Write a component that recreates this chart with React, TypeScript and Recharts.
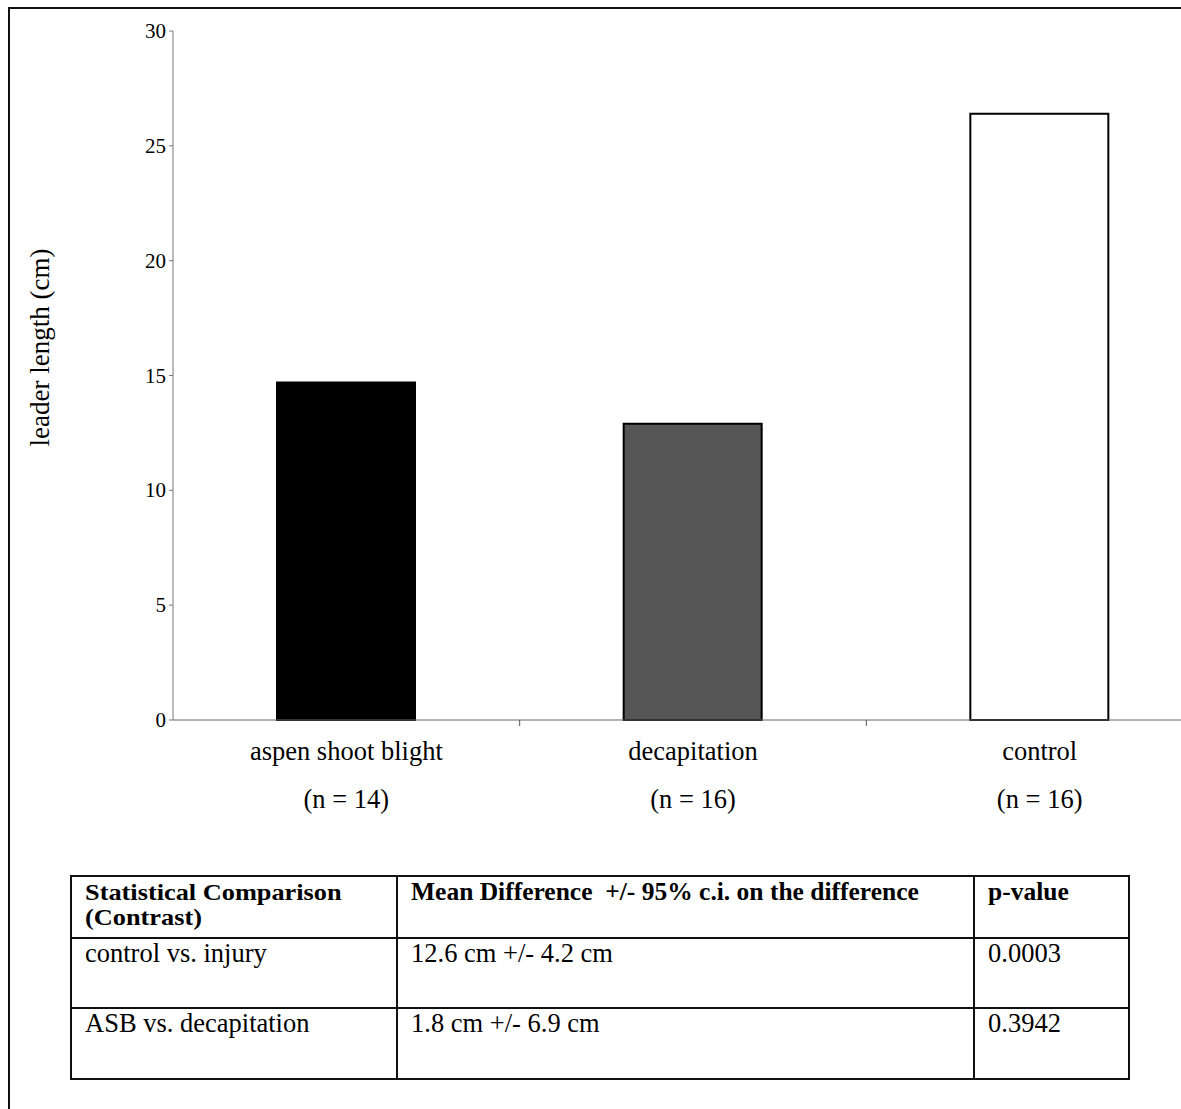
import React from 'react';
import { BarChart, Bar, XAxis, YAxis, Cell } from 'recharts';

const categories = ['aspen shoot blight', 'decapitation', 'control'];
const sampleSizes = ['(n = 14)', '(n = 16)', '(n = 16)'];
const leaderLength = [14.7, 12.9, 26.4];
const yTicks = [0, 5, 10, 15, 20, 25, 30];

const headerLines = ['Statistical Comparison', '(Contrast)'];
const tableHeader = ['Mean Difference  +/- 95% c.i. on the difference', 'p-value'];
const contrasts = ['control vs. injury', 'ASB vs. decapitation'];
const meanDiffs = ['12.6 cm +/- 4.2 cm', '1.8 cm +/- 6.9 cm'];
const pValues = ['0.0003', '0.3942'];

const barFills = ['#000000', '#555555', '#ffffff'];

const FONT = '"Liberation Serif", "Times New Roman", Times, serif';
const CHART_W = 1215;
const CHART_H = 830;
const MARGIN = { top: 31, right: 2, bottom: 0, left: 0 };
const Y_W = 173;
const X_H = 110;
const BAND = (CHART_W - MARGIN.right - Y_W) / categories.length;

const data = categories.map((name, i) => ({ name, value: leaderLength[i], n: sampleSizes[i] }));

const XTick = (props: any) => {
  const { x, y, index, payload } = props;
  const i = index ?? payload?.index ?? 0;
  return (
    <g>
      {i > 0 && <line x1={x - BAND / 2} x2={x - BAND / 2} y1={y} y2={y + 6} stroke="#555" strokeWidth={1} />}
      <text x={x} y={y + 40} textAnchor="middle" fontSize={26.5} fontFamily={FONT} fill="#000">
        {payload.value}
      </text>
      <text x={x} y={y + 88} textAnchor="middle" fontSize={26.5} fontFamily={FONT} fill="#000">
        {sampleSizes[i]}
      </text>
    </g>
  );
};

const YTick = (props: any) => {
  const { x, y, payload } = props;
  return (
    <text x={x} y={y} textAnchor="end" dominantBaseline="central" fontSize={21} fontFamily={FONT} fill="#000">
      {payload.value}
    </text>
  );
};

const YLabel = (props: any) => {
  const vb = props.viewBox || { x: 0, y: 31, width: 173, height: 689 };
  const cx = 40;
  const cy = vb.y + vb.height / 2 - 28;
  return (
    <text
      x={cx}
      y={cy}
      transform={`rotate(-90, ${cx}, ${cy})`}
      textAnchor="middle"
      dominantBaseline="central"
      fontSize={27}
      fontFamily={FONT}
      fill="#000"
    >
      leader length (cm)
    </text>
  );
};

const cellBorder = '2px solid #111';

export default function App() {
  const tdBase: React.CSSProperties = {
    border: cellBorder,
    verticalAlign: 'top',
    padding: '1px 12px 0 13px',
    fontFamily: FONT,
    fontSize: 26.5,
    lineHeight: '26px',
    color: '#000',
    textAlign: 'left',
  };
  const hdr: React.CSSProperties = { ...tdBase, fontWeight: 'bold', fontSize: 25.5, paddingTop: 2, lineHeight: '26px' };
  return (
    <div style={{ position: 'absolute', left: 0, top: 0, width: 1181, height: 1109, overflow: 'hidden', background: '#fff' }}>
      <div
        style={{
          position: 'absolute',
          left: 8,
          top: 7,
          width: 1300,
          height: 1300,
          borderTop: '2px solid #111',
          borderLeft: '2px solid #111',
        }}
      />
      <div style={{ position: 'absolute', left: 0, top: 0 }}>
        <BarChart width={CHART_W} height={CHART_H} data={data} margin={MARGIN}>
          <YAxis
            type="number"
            domain={[0, 30]}
            ticks={yTicks}
            interval={0}
            width={Y_W}
            stroke="#777"
            tickSize={4}
            tickMargin={3}
            tick={<YTick />}
            label={<YLabel />}
          />
          <XAxis
            dataKey="name"
            height={X_H}
            interval={0}
            stroke="#666"
            tickLine={false}
            tickSize={0}
            tickMargin={0}
            tick={<XTick />}
          />
          <Bar dataKey="value" barSize={138} isAnimationActive={false} stroke="#000" strokeWidth={2}>
            {data.map((d, i) => (
              <Cell key={d.name} fill={barFills[i]} />
            ))}
          </Bar>
        </BarChart>
      </div>
      <table
        style={{
          position: 'absolute',
          left: 70,
          top: 875,
          width: 1058,
          borderCollapse: 'collapse',
          tableLayout: 'fixed',
        }}
      >
        <colgroup>
          <col style={{ width: 326 }} />
          <col style={{ width: 577 }} />
          <col style={{ width: 155 }} />
        </colgroup>
        <tbody>
          <tr style={{ height: 62 }}>
            <td style={{ ...hdr, paddingTop: 3 }}>
              {headerLines.map((l) => (
                <div
                  key={l}
                  style={{
                    fontSize: 22.5,
                    lineHeight: '25px',
                    height: 25,
                    whiteSpace: 'nowrap',
                    transform: 'scaleX(1.17)',
                    transformOrigin: 'left center',
                  }}
                >
                  {l}
                </div>
              ))}
            </td>
            {tableHeader.map((h) => (
              <td key={h} style={hdr}>
                <span style={{ whiteSpace: 'pre' }}>{h}</span>
              </td>
            ))}
          </tr>
          {contrasts.map((c, r) => (
            <tr key={c} style={{ height: r === 0 ? 70 : 71 }}>
              <td style={tdBase}>{contrasts[r]}</td>
              <td style={tdBase}>{meanDiffs[r]}</td>
              <td style={tdBase}>{pValues[r]}</td>
            </tr>
          ))}
        </tbody>
      </table>
    </div>
  );
}
